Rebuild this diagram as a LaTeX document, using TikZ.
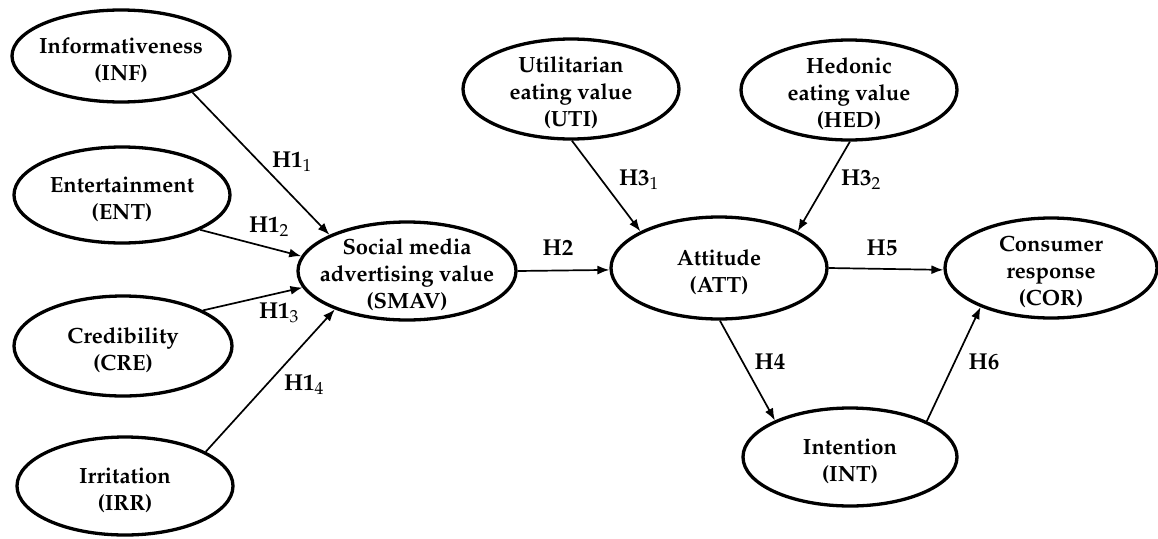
\documentclass[tikz,border=0pt]{standalone}
\usepackage[T1]{fontenc}
\usepackage{mathpazo}
\usetikzlibrary{arrows.meta,shapes.geometric}
\newcommand\topstrut{\rule{0pt}{24pt}}
\tikzset{
  lat/.style={draw, ellipse, line width=3.3pt, inner xsep=-50pt, inner ysep=-14pt, align=center,
    font=\bfseries\fontsize{22}{27}\selectfont},
  arr/.style={line width=1.7pt, -{Latex[length=12pt,width=9pt]}},
  hl/.style={font=\bfseries\fontsize{23}{25}\selectfont, inner sep=0pt}
}
\begin{document}
\begin{tikzpicture}[x=1pt,y=-1pt]
\useasboundingbox (0,0) rectangle (1158,538);
\node[lat, minimum width=218pt, minimum height=92pt] (INF) at (121,56) {\topstrut Informativeness\\(INF)};
\node[lat, minimum width=216pt, minimum height=96pt] (ENT) at (122,195) {\topstrut Entertainment\\(ENT)};
\node[lat, minimum width=218pt, minimum height=100pt] (CRE) at (123,346) {\topstrut Credibility\\(CRE)};
\node[lat, minimum width=216pt, minimum height=98pt] (IRR) at (125,486) {\topstrut Irritation\\(IRR)};
\node[lat, minimum width=218pt, minimum height=98pt] (SMAV) at (407,271) {\topstrut Social media\\advertising value\\(SMAV)};
\node[lat, minimum width=216pt, minimum height=100pt] (UTI) at (571,89) {\topstrut Utilitarian\\eating value\\(UTI)};
\node[lat, minimum width=216pt, minimum height=100pt] (HED) at (849,90) {\topstrut Hedonic\\eating value\\(HED)};
\node[lat, minimum width=216pt, minimum height=102pt] (ATT) at (719,268) {\topstrut Attitude\\(ATT)};
\node[lat, minimum width=212pt, minimum height=100pt] (COR) at (1051,268) {\topstrut Consumer\\response\\(COR)};
\node[lat, minimum width=214pt, minimum height=98pt] (INT) at (850,457) {\topstrut Intention\\(INT)};

\draw[arr] (INF.-27) -- (SMAV.155);
\draw[arr] (ENT.-24) -- (SMAV.172);
\draw[arr] (CRE.24) -- (SMAV.-171);
\draw[arr] (IRR.23) -- (SMAV.-152);
\draw[arr] (SMAV.0) -- (ATT.181);
\draw[arr] (UTI.-89) -- (ATT.155);
\draw[arr] (HED.-89) -- (ATT.25);
\draw[arr] (ATT.0) -- (COR.181);
\draw[arr] (ATT.-89) -- (INT.154);
\draw[arr] (INT.25) -- (COR.-151);

\node[hl] (l11) at (292,162) {H1$_1$};
\node[hl] (l12) at (269,227) {H1$_2$};
\node[hl] (l13) at (279,313) {H1$_3$};
\node[hl] (l14) at (304,385) {H1$_4$};
\node[hl] (l2) at (558,248) {H2};
\node[hl] (l31) at (639,180) {H3$_1$};
\node[hl] (l32) at (861,180) {H3$_2$};
\node[hl] (l5) at (882,248) {H5};
\node[hl] (l4) at (770,362) {H4};
\node[hl] (l6) at (984,362) {H6};
\end{tikzpicture}
\end{document}
